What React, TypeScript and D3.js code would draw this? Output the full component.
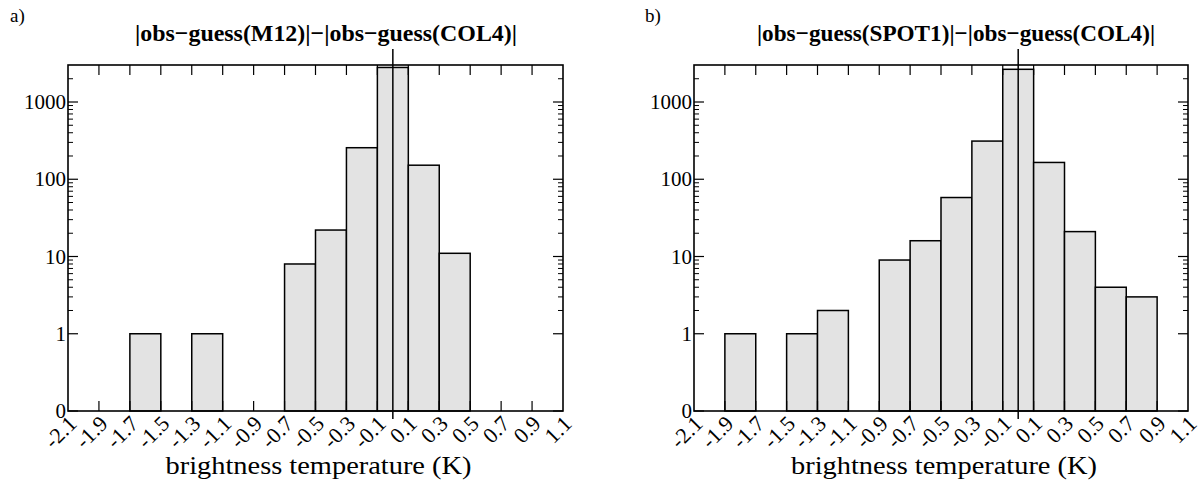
import * as d3 from 'd3';

// bin edges are every 0.2 K from -2.1 to 1.1
const binEdges = d3.range(0, 17).map((i) => +(-2.1 + i * 0.2).toFixed(1));
const tickLabels = ['-2.1', '-1.9', '-1.7', '-1.5', '-1.3', '-1.1', '-0.9', '-0.7', '-0.5', '-0.3', '-0.1', '0.1', '0.3', '0.5', '0.7', '0.9', '1.1'];

// counts per bin (16 bins)
const countsM12 = [0, 0, 1, 0, 1, 0, 0, 8, 22, 256, 2800, 152, 11, 0, 0, 0];
const countsSPOT1 = [0, 1, 0, 1, 2, 0, 9, 16, 58, 312, 2650, 165, 21, 4, 3, 0];

const yMajor = [0.1, 1, 10, 100, 1000];
const yMajorLabels = ['0', '1', '10', '100', '1000'];

const FONT = 'Liberation Serif, Tinos, DejaVu Serif, serif';

interface PanelProps {
    left: number;
    right: number;
    counts: number[];
    title: string;
    titleX: number;
    titleWidth: number;
    letter: string;
    letterX: number;
}

const TOP = 65;
const BOTTOM = 411;

function Panel(props: PanelProps) {
    const { left, right, counts, title, titleX, titleWidth, letter, letterX } = props;

    const x = d3.scaleLinear().domain([-2.1, 1.1]).range([left, right]);
    const y = d3.scaleLog().domain([0.1, 3013]).range([BOTTOM, TOP]);

    const minor: number[] = [];
    [1, 10, 100, 1000].forEach((d) => {
        for (let k = 2; k <= 9; k++) if (d * k < 3000) minor.push(d * k);
    });
    const innerTicks = binEdges.slice(1, -1);

    return (
        <g fontFamily={FONT}>
            <text x={letterX} y={22} fontSize={19}>
                {letter}
            </text>
            <text
                x={titleX}
                y={41}
                fontSize={24}
                fontWeight="bold"
                textAnchor="middle"
                textLength={titleWidth}
                lengthAdjust="spacingAndGlyphs"
            >
                {title}
            </text>

            {counts.map((c, i) =>
                c > 0 ? (
                    <rect
                        key={i}
                        x={x(binEdges[i])}
                        y={y(c)}
                        width={x(binEdges[i + 1]) - x(binEdges[i])}
                        height={BOTTOM - y(c)}
                        fill="#e3e3e3"
                        stroke="#000"
                        strokeWidth={1.5}
                    />
                ) : null
            )}

            <rect x={left} y={TOP} width={right - left} height={BOTTOM - TOP} fill="none" stroke="#000" strokeWidth={1.6} />

            {/* x ticks, top and bottom, pointing inward */}
            {innerTicks.map((t) => (
                <g key={t} stroke="#000" strokeWidth={1.2}>
                    <line x1={x(t)} x2={x(t)} y1={TOP} y2={TOP + 10} />
                    <line x1={x(t)} x2={x(t)} y1={BOTTOM} y2={BOTTOM - 10} />
                </g>
            ))}

            {/* y ticks, left and right */}
            {yMajor.map((t) => (
                <g key={t} stroke="#000" strokeWidth={1.2}>
                    <line x1={left} x2={left + 10} y1={y(t)} y2={y(t)} />
                    <line x1={right} x2={right - 10} y1={y(t)} y2={y(t)} />
                </g>
            ))}
            {minor.map((t) => (
                <g key={t} stroke="#000" strokeWidth={1}>
                    <line x1={left} x2={left + 5} y1={y(t)} y2={y(t)} />
                    <line x1={right} x2={right - 5} y1={y(t)} y2={y(t)} />
                </g>
            ))}

            {yMajor.map((t, i) => (
                <text key={t} x={left - 2} y={y(t) + 7} textAnchor="end" fontSize={21}>
                    {yMajorLabels[i]}
                </text>
            ))}

            {binEdges.map((t, i) => (
                <text
                    key={t}
                    transform={`translate(${x(t) + 10},${BOTTOM + 14}) rotate(-45)`}
                    textAnchor="end"
                    fontSize={22}
                >
                    {tickLabels[i]}
                </text>
            ))}

            <line x1={x(0)} x2={x(0)} y1={49} y2={BOTTOM + 8} stroke="#000" strokeWidth={1.5} />

            <text
                x={(left + right) / 2 + 3}
                y={474}
                textAnchor="middle"
                fontSize={26}
                textLength={306}
                lengthAdjust="spacingAndGlyphs"
            >
                brightness temperature (K)
            </text>
        </g>
    );
}

export default function App() {
    return (
        <svg
            width={1203}
            height={483}
            viewBox="0 0 1203 483"
            style={{ position: 'absolute', left: 0, top: 0, background: '#fff' }}
        >
            <rect width={1203} height={483} fill="#fff" />
            <Panel
                left={68}
                right={563}
                counts={countsM12}
                title="|obs−guess(M12)|−|obs−guess(COL4)|"
                titleX={326}
                titleWidth={382}
                letter="a)"
                letterX={10}
            />
            <Panel
                left={694}
                right={1188}
                counts={countsSPOT1}
                title="|obs−guess(SPOT1)|−|obs−guess(COL4)|"
                titleX={956}
                titleWidth={398}
                letter="b)"
                letterX={645}
            />
        </svg>
    );
}
